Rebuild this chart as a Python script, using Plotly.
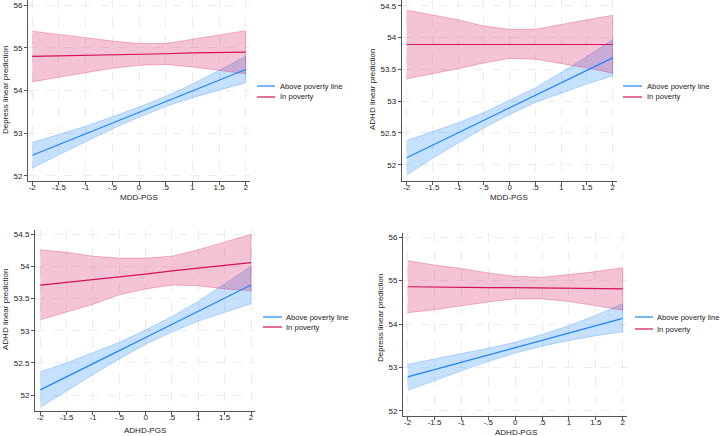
import plotly.graph_objects as go

W, H = 720, 436

# ---------------- data ----------------
xs = [-2, -1.5, -1, -0.5, 0, 0.5, 1, 1.5, 2]
x_tick_vals = [-2, -1.5, -1, -0.5, 0, 0.5, 1, 1.5, 2]
x_tick_text = ["-2", "-1.5", "-1", "-.5", "0", ".5", "1", "1.5", "2"]
y_ticks_int = [52, 53, 54, 55, 56]
y_ticks_int_text = ["52", "53", "54", "55", "56"]
y_ticks_half = [52, 52.5, 53, 53.5, 54, 54.5]
y_ticks_half_text = ["52", "52.5", "53", "53.5", "54", "54.5"]

series_names = ["Above poverty line", "In poverty"]

# Panel 1: MDD-PGS -> Depress
p1_above_fit = [52.48, 52.73, 52.98, 53.24, 53.49, 53.74, 53.99, 54.24, 54.49]
p1_above_lo = [52.18, 52.49, 52.80, 53.10, 53.37, 53.62, 53.83, 54.01, 54.18]
p1_above_hi = [52.78, 52.97, 53.16, 53.38, 53.61, 53.86, 54.15, 54.47, 54.80]
p1_pov_fit = [54.80, 54.81, 54.83, 54.84, 54.85, 54.86, 54.88, 54.89, 54.90]
p1_pov_lo = [54.20, 54.31, 54.42, 54.52, 54.59, 54.61, 54.55, 54.47, 54.39]
p1_pov_hi = [55.39, 55.31, 55.24, 55.16, 55.10, 55.10, 55.20, 55.30, 55.40]

# Panel 2: MDD-PGS -> ADHD
p2_above_fit = [52.11, 52.31, 52.50, 52.70, 52.895, 53.09, 53.29, 53.48, 53.68]
p2_above_lo = [51.84, 52.10, 52.34, 52.58, 52.79, 52.98, 53.13, 53.27, 53.40]
p2_above_hi = [52.38, 52.52, 52.66, 52.82, 53.01, 53.21, 53.45, 53.70, 53.97]
p2_pov_fit = [53.89, 53.89, 53.89, 53.89, 53.89, 53.89, 53.89, 53.89, 53.89]
p2_pov_lo = [53.35, 53.43, 53.51, 53.60, 53.67, 53.66, 53.59, 53.52, 53.44]
p2_pov_hi = [54.43, 54.35, 54.28, 54.18, 54.13, 54.13, 54.21, 54.28, 54.35]

# Panel 3: ADHD-PGS -> ADHD
p3_above_fit = [52.08, 52.28, 52.49, 52.69, 52.895, 53.10, 53.30, 53.51, 53.71]
p3_above_lo = [51.81, 52.06, 52.32, 52.56, 52.79, 52.98, 53.15, 53.29, 53.42]
p3_above_hi = [52.36, 52.50, 52.66, 52.82, 53.01, 53.22, 53.46, 53.73, 54.00]
p3_pov_fit = [53.71, 53.75, 53.80, 53.84, 53.88, 53.93, 53.97, 54.02, 54.06]
p3_pov_lo = [53.17, 53.29, 53.41, 53.56, 53.65, 53.71, 53.70, 53.65, 53.62]
p3_pov_hi = [54.26, 54.22, 54.16, 54.13, 54.13, 54.16, 54.26, 54.38, 54.50]

# Panel 4: ADHD-PGS -> Depress
p4_above_fit = [52.78, 52.95, 53.12, 53.29, 53.455, 53.62, 53.79, 53.96, 54.13]
p4_above_lo = [52.47, 52.69, 52.92, 53.14, 53.33, 53.49, 53.62, 53.73, 53.82]
p4_above_hi = [53.07, 53.20, 53.32, 53.44, 53.58, 53.76, 53.96, 54.20, 54.47]
p4_pov_fit = [54.86, 54.85, 54.85, 54.84, 54.84, 54.83, 54.82, 54.82, 54.81]
p4_pov_lo = [54.26, 54.33, 54.42, 54.51, 54.58, 54.58, 54.52, 54.42, 54.32]
p4_pov_hi = [55.46, 55.36, 55.28, 55.18, 55.10, 55.08, 55.14, 55.21, 55.30]

# ---------------- style ----------------
BLUE = "rgb(26,133,255)"
PINK = "rgb(212,17,89)"
BLUE_FILL = "rgba(26,133,255,0.25)"
PINK_FILL = "rgba(212,17,89,0.25)"
BLUE_EDGE = "rgba(26,133,255,0.35)"
PINK_EDGE = "rgba(212,17,89,0.35)"
FONT = "Liberation Sans, Arial, Helvetica, sans-serif"
FS = 8
LFS = 7.6
TXT = "#222222"
AX = "#555555"
GRID = "#ececec"

panels = [
    dict(above=(p1_above_fit, p1_above_lo, p1_above_hi), pov=(p1_pov_fit, p1_pov_lo, p1_pov_hi),
         px=(28, 250), py=(0, 181), xr=(-2.08, 2.08), yr=(51.876, 56.12),
         yt=(y_ticks_int, y_ticks_int_text), xtitle="MDD-PGS", ytitle="Depress linear prediction",
         xt_pos=(139, 197), yt_pos=(5, 90), leg=(257, 275, 279, 86, 97)),
    dict(above=(p2_above_fit, p2_above_lo, p2_above_hi), pov=(p2_pov_fit, p2_pov_lo, p2_pov_hi),
         px=(401.7, 616.7), py=(0, 181), xr=(-2.097, 2.078), yr=(51.744, 54.59),
         yt=(y_ticks_half, y_ticks_half_text), xtitle="MDD-PGS", ytitle="ADHD linear prediction",
         xt_pos=(509, 197), yt_pos=(372, 90), leg=(623, 642, 646, 86, 97)),
    dict(above=(p3_above_fit, p3_above_lo, p3_above_hi), pov=(p3_pov_fit, p3_pov_lo, p3_pov_hi),
         px=(35, 255), py=(230, 411), xr=(-2.10, 2.076), yr=(51.751, 54.567),
         yt=(y_ticks_half, y_ticks_half_text), xtitle="ADHD-PGS", ytitle="ADHD linear prediction",
         xt_pos=(145, 430), yt_pos=(5, 310), leg=(263, 282, 285, 317, 327)),
    dict(above=(p4_above_fit, p4_above_lo, p4_above_hi), pov=(p4_pov_fit, p4_pov_lo, p4_pov_hi),
         px=(403, 626.7), py=(233, 416), xr=(-2.087, 2.074), yr=(51.878, 56.10),
         yt=(y_ticks_int, y_ticks_int_text), xtitle="ADHD-PGS", ytitle="Depress linear prediction",
         xt_pos=(516, 432), yt_pos=(380, 318), leg=(635, 653, 656, 317, 329)),
]

fig = go.Figure()
annotations = []
shapes = []
layout_axes = {}


def fx(p):
    return p / W


def fy(p):
    return 1 - p / H


for i, pn in enumerate(panels):
    n = i + 1
    xa = "x" if n == 1 else f"x{n}"
    ya = "y" if n == 1 else f"y{n}"
    # confidence bands
    for (fit, lo, hi), fill, edge in [(pn["above"], BLUE_FILL, BLUE_EDGE), (pn["pov"], PINK_FILL, PINK_EDGE)]:
        fig.add_trace(go.Scatter(
            x=xs + xs[::-1], y=hi + lo[::-1], fill="toself", fillcolor=fill,
            line=dict(color=edge, width=0.8), mode="lines", showlegend=False,
            hoverinfo="skip", xaxis=xa, yaxis=ya))
    # fitted lines
    for (fit, lo, hi), col, name in [(pn["above"], BLUE, series_names[0]), (pn["pov"], PINK, series_names[1])]:
        fig.add_trace(go.Scatter(
            x=xs, y=fit, mode="lines", line=dict(color=col, width=1.2), name=name,
            showlegend=False, xaxis=xa, yaxis=ya))

    kx = "xaxis" if n == 1 else f"xaxis{n}"
    ky = "yaxis" if n == 1 else f"yaxis{n}"
    layout_axes[kx] = dict(
        domain=[fx(pn["px"][0]), fx(pn["px"][1])], range=list(pn["xr"]), anchor=ya,
        tickvals=x_tick_vals, ticktext=x_tick_text, ticks="outside", ticklen=3,
        tickcolor=AX, showline=True, linecolor=AX, linewidth=1, zeroline=False,
        showgrid=True, gridcolor=GRID, gridwidth=0.8, griddash="dash",
        ticklabelstandoff=-5,
        tickfont=dict(size=FS, color=TXT, family=FONT))
    layout_axes[ky] = dict(
        domain=[fy(pn["py"][1]), fy(pn["py"][0])], range=list(pn["yr"]), anchor=xa,
        tickvals=pn["yt"][0], ticktext=pn["yt"][1], ticks="outside", ticklen=3,
        tickcolor=AX, showline=True, linecolor=AX, linewidth=1, zeroline=False,
        showgrid=True, gridcolor=GRID, gridwidth=0.8, griddash="dash",
        tickfont=dict(size=FS, color=TXT, family=FONT))

    annotations.append(dict(x=fx(pn["xt_pos"][0]), y=fy(pn["xt_pos"][1]), xref="paper", yref="paper",
                            text=pn["xtitle"], showarrow=False, xanchor="center", yanchor="middle",
                            borderpad=0, font=dict(size=FS, color=TXT, family=FONT)))
    annotations.append(dict(x=fx(pn["yt_pos"][0]), y=fy(pn["yt_pos"][1]), xref="paper", yref="paper",
                            text=pn["ytitle"], showarrow=False, textangle=-90, xanchor="center",
                            yanchor="middle", font=dict(size=FS, color=TXT, family=FONT)))
    lx0, lx1, tx, r1, r2 = pn["leg"]
    for ry, col, name in [(r1, BLUE, series_names[0]), (r2, PINK, series_names[1])]:
        shapes.append(dict(type="line", xref="paper", yref="paper", x0=fx(lx0), x1=fx(lx1),
                           y0=fy(ry), y1=fy(ry), line=dict(color=col, width=1.2)))
        annotations.append(dict(x=fx(tx), y=fy(ry), xref="paper", yref="paper", text=name,
                                showarrow=False, xanchor="left", yanchor="middle", borderpad=0,
                                font=dict(size=LFS, color=TXT, family=FONT)))

fig.update_layout(
    width=W, height=H, margin=dict(l=0, r=0, t=0, b=0),
    paper_bgcolor="white", plot_bgcolor="white", showlegend=False,
    annotations=annotations, shapes=shapes, font=dict(family=FONT, size=FS, color=TXT),
    **layout_axes)

fig.write_html("out.html")
